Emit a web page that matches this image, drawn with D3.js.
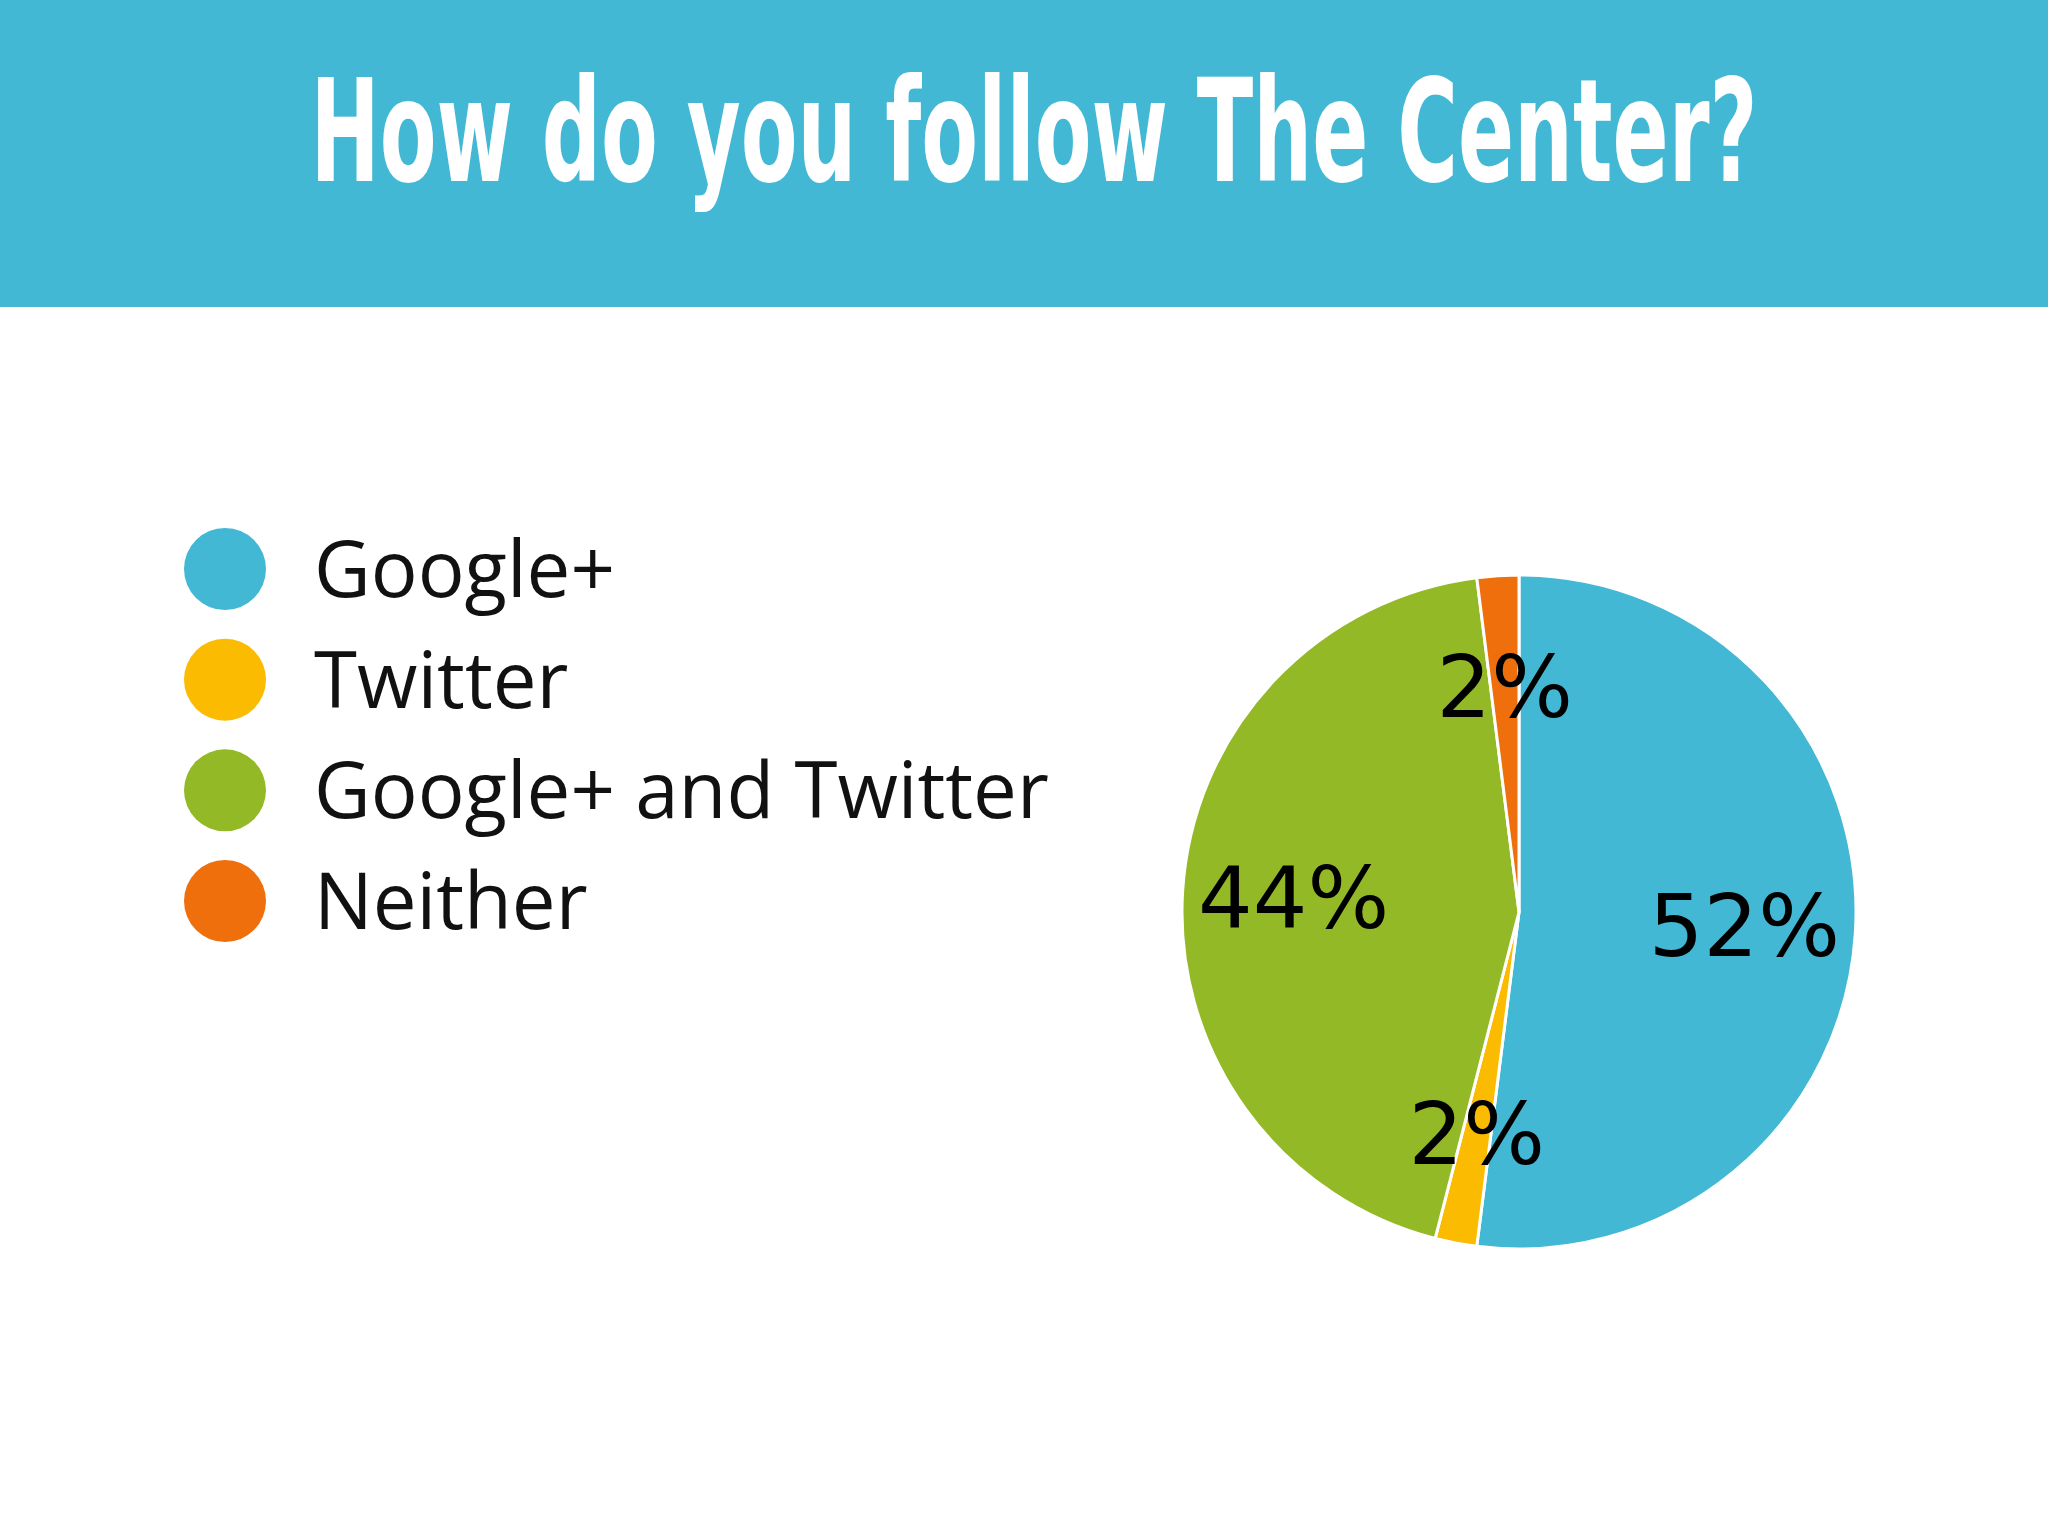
<!DOCTYPE html>
<html><head><meta charset="utf-8">
<script src="https://cdn.jsdelivr.net/npm/d3@7"></script>
<style>body{margin:0;background:#fff}</style></head>
<body><svg id="c" width="2048" height="1536"></svg>
<script>
const title = "How do you follow The Center?";
const categories = ["Google+", "Twitter", "Google+ and Twitter", "Neither"];
const values = [52, 2, 44, 2];
const colors = ["#42b8d4", "#fbbb00", "#93b926", "#ee6f0c"];

const svg = d3.select("#c");
svg.append("rect").attr("width",2048).attr("height",307).attr("fill","#42b8d4");
svg.append("text").attr("x",1034).attr("y",181).attr("text-anchor","middle")
  .attr("font-family","'Liberation Sans Narrow','DejaVu Sans Condensed',sans-serif")
  .attr("font-weight","bold").attr("font-size",142).attr("fill","#fff")
  .attr("textLength",1447).attr("lengthAdjust","spacingAndGlyphs").text(title);

const ly = d3.scalePoint().domain(categories).range([569,901]);
const leg = svg.append("g");
categories.forEach((c,i)=>{
  leg.append("circle").attr("cx",225).attr("cy",ly(c)).attr("r",41).attr("fill",colors[i]);
  leg.append("text").attr("x",314).attr("y",ly(c)+28).attr("font-family","'Open Sans',sans-serif")
    .attr("font-size",78).attr("fill","#111").text(c);
});

const cx=1519, cy=912, r=337;
const pie = d3.pie().sort(null).value(d=>d)(values);
const arc = d3.arc().innerRadius(0).outerRadius(r);
const lab = d3.arc().innerRadius(r*0.67).outerRadius(r*0.67);
const g = svg.append("g").attr("transform",`translate(${cx},${cy})`);
g.selectAll("path").data(pie).join("path").attr("d",arc)
  .attr("fill",(d,i)=>colors[i]).attr("stroke","#fff").attr("stroke-width",3);
g.selectAll("text").data(pie).join("text")
  .attr("transform",d=>`translate(${lab.centroid(d)})`)
  .attr("text-anchor","middle").attr("dy","0.35em")
  .attr("font-family","'DejaVu Sans',sans-serif").attr("font-size",86).attr("fill","#000")
  .text(d=>d.data+"%");
</script></body></html>
